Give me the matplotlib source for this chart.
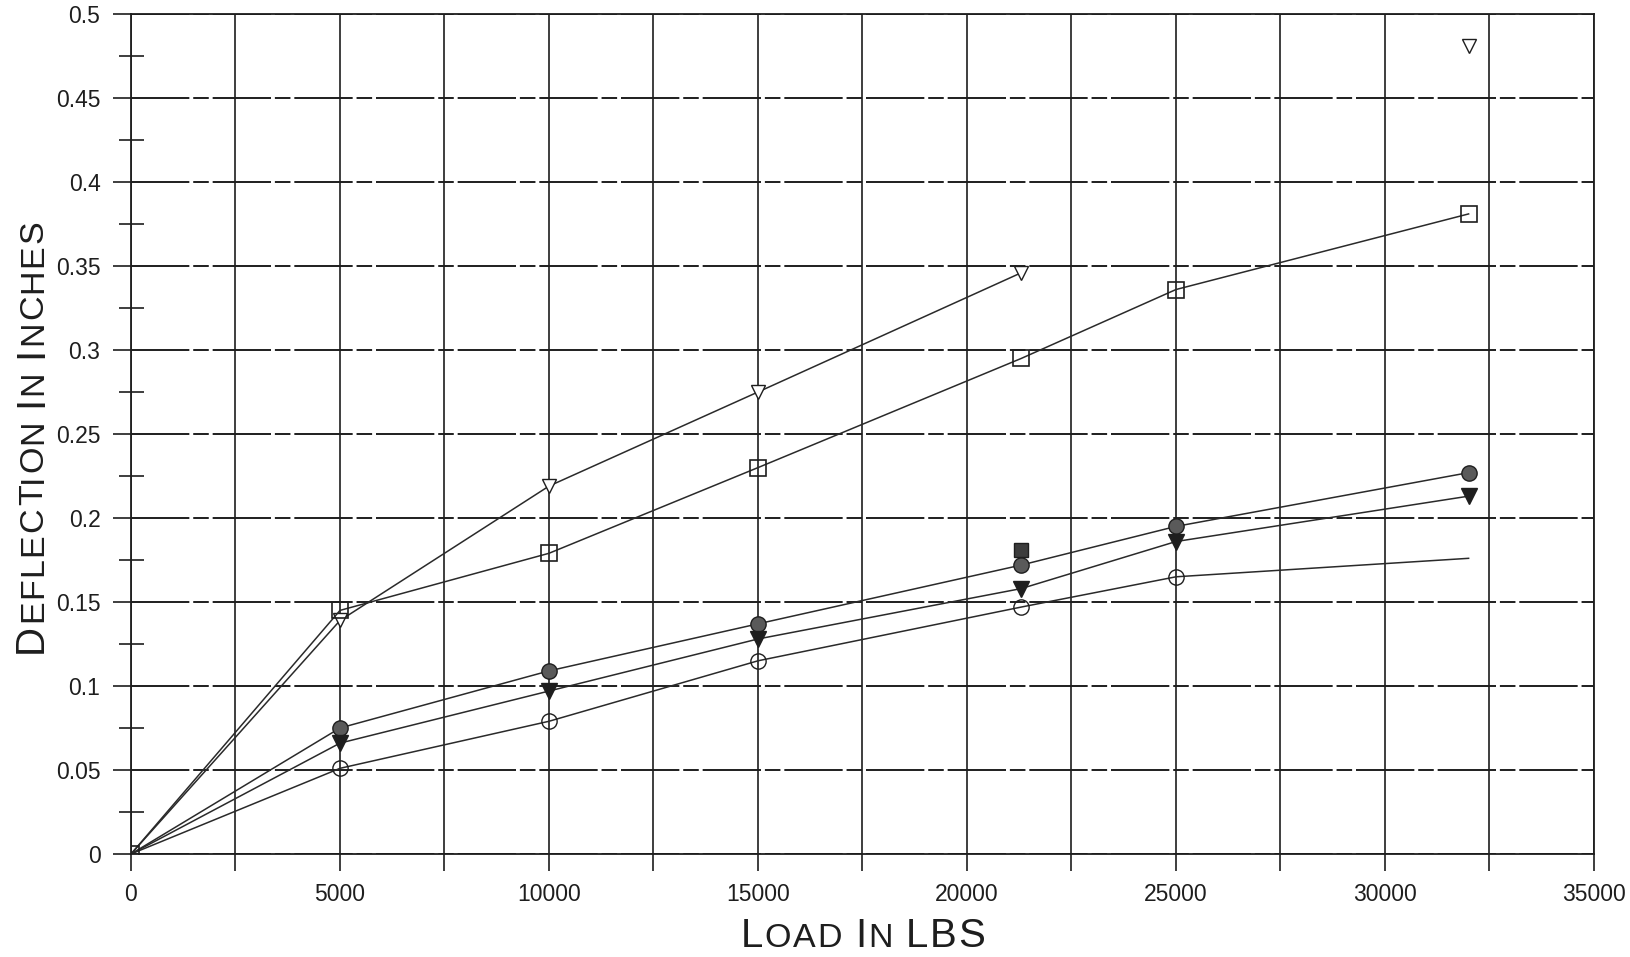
import matplotlib
matplotlib.use("Agg")
import matplotlib.pyplot as plt
from matplotlib.ticker import FixedLocator, MultipleLocator

# load points (lbs)
loads = [0, 5000, 10000, 15000, 21300, 25000, 32000]
loads_short = [0, 5000, 10000, 15000, 21300]

# deflection (in)
open_tri = [0, 0.139, 0.219, 0.275, 0.346]
open_tri_last = (32000, 0.481)
open_sq = [0, 0.145, 0.179, 0.230, 0.295, 0.336, 0.381]
hatch_circ = [0, 0.075, 0.109, 0.137, 0.172, 0.195, 0.227]
filled_tri = [0, 0.066, 0.097, 0.128, 0.158, 0.186, 0.213]
open_circ = [0, 0.051, 0.079, 0.115, 0.147, 0.165, 0.176]
filled_sq = (21300, 0.181)

x_ticks = [0, 5000, 10000, 15000, 20000, 25000, 30000, 35000]
x_labels = ["0", "5000", "10000", "15000", "20000", "25000", "30000", "35000"]
y_ticks = [0, 0.05, 0.1, 0.15, 0.2, 0.25, 0.3, 0.35, 0.4, 0.45, 0.5]
y_labels = ["0", "0.05", "0.1", "0.15", "0.2", "0.25", "0.3", "0.35", "0.4", "0.45", "0.5"]

INK = "#1e1e1e"
W, H = 1631, 957
plt.rcParams["font.family"] = ["Liberation Sans", "DejaVu Sans"]

fig = plt.figure(figsize=(W / 100, H / 100), dpi=100)
ax = fig.add_axes([131 / W, 1 - 854 / H, (1594 - 131) / W, (854 - 14) / H])
ax.set_xlim(0, 35000)
ax.set_ylim(0, 0.5)

# grid
ax.xaxis.set_major_locator(FixedLocator(x_ticks))
ax.xaxis.set_minor_locator(MultipleLocator(2500))
ax.yaxis.set_major_locator(FixedLocator(y_ticks))
ax.yaxis.set_minor_locator(MultipleLocator(0.025))
ax.set_xticklabels(x_labels)
ax.set_yticklabels(y_labels)
ax.xaxis.grid(True, which="both", color=INK, lw=1.2)
ax.yaxis.grid(True, which="major", color=INK, lw=1.4, linestyle=(0, (30, 2, 8, 2)))
ax.set_axisbelow(True)

ax.tick_params(axis="x", which="both", direction="out", length=12, width=1.2,
               color=INK, pad=9, labelsize=16.5, labelcolor=INK)
ax.tick_params(axis="y", which="major", direction="out", length=13, width=1.2,
               color=INK, pad=9, labelsize=16.5, labelcolor=INK)
ax.tick_params(axis="y", which="minor", direction="inout", length=18, width=1.2, color=INK)
for s in ax.spines.values():
    s.set_color(INK)
    s.set_linewidth(1.3)

line_kw = dict(color="#2a2a2a", lw=1.1)

ax.plot(loads_short, open_tri, marker="v", ms=10, mfc="white", mec=INK,
        markevery=[1, 2, 3, 4], **line_kw)
ax.plot(*open_tri_last, marker="v", ms=10, mfc="white", mec=INK, ls="none")
ax.plot(loads, hatch_circ, marker="o", ms=11, mfc="#5a5a5a", mec=INK,
        markevery=[1, 2, 3, 4, 5, 6], **line_kw)
ax.plot(loads, filled_tri, marker="v", ms=11, mfc=INK, mec=INK,
        markevery=[1, 2, 3, 4, 5, 6], **line_kw)
ax.plot(loads, open_circ, marker="o", ms=11, mfc="none", mec=INK,
        markevery=[1, 2, 3, 4, 5], **line_kw)
ax.plot(*filled_sq, marker="s", ms=10, mfc="#3c3c3c", mec=INK, ls="none")
ax.plot(loads, open_sq, marker="s", ms=12, mfc="none", mec=INK, mew=1.2, **line_kw)


def small_caps(text, x, y, length, big=29, small=24.5, rotation=0):
    # fake small caps: capitals big, lower case drawn as small capitals,
    # letters spread to the given length in px
    fig.canvas.draw()
    rend = fig.canvas.get_renderer()
    chars = []
    for ch in text:
        if ch == " ":
            chars.append((ch, small, small * 0.28 * 100 / 72))
            continue
        size = small if ch.islower() else big
        t = fig.text(0, 0, ch.upper(), fontsize=size)
        w = t.get_window_extent(rend).width
        t.remove()
        chars.append((ch.upper(), size, w))
    total = sum(c[2] for c in chars)
    gap = (length - total) / (len(chars) - 1)
    pos = 0.0
    for ch, size, w in chars:
        if ch != " ":
            if rotation == 0:
                px, py = x - length / 2 + pos, y
            else:
                px, py = x, y - pos
            fig.text(px / W, 1 - py / H, ch, fontsize=size, color=INK,
                     ha="left", va="baseline", rotation=rotation,
                     rotation_mode="anchor")
        pos += w + gap


small_caps("Load In LBS", 863, 947, 245)
small_caps("Deflection In Inches", 42, 653, 433, rotation=90)

fig.savefig("out.png", dpi=100, facecolor="white")
